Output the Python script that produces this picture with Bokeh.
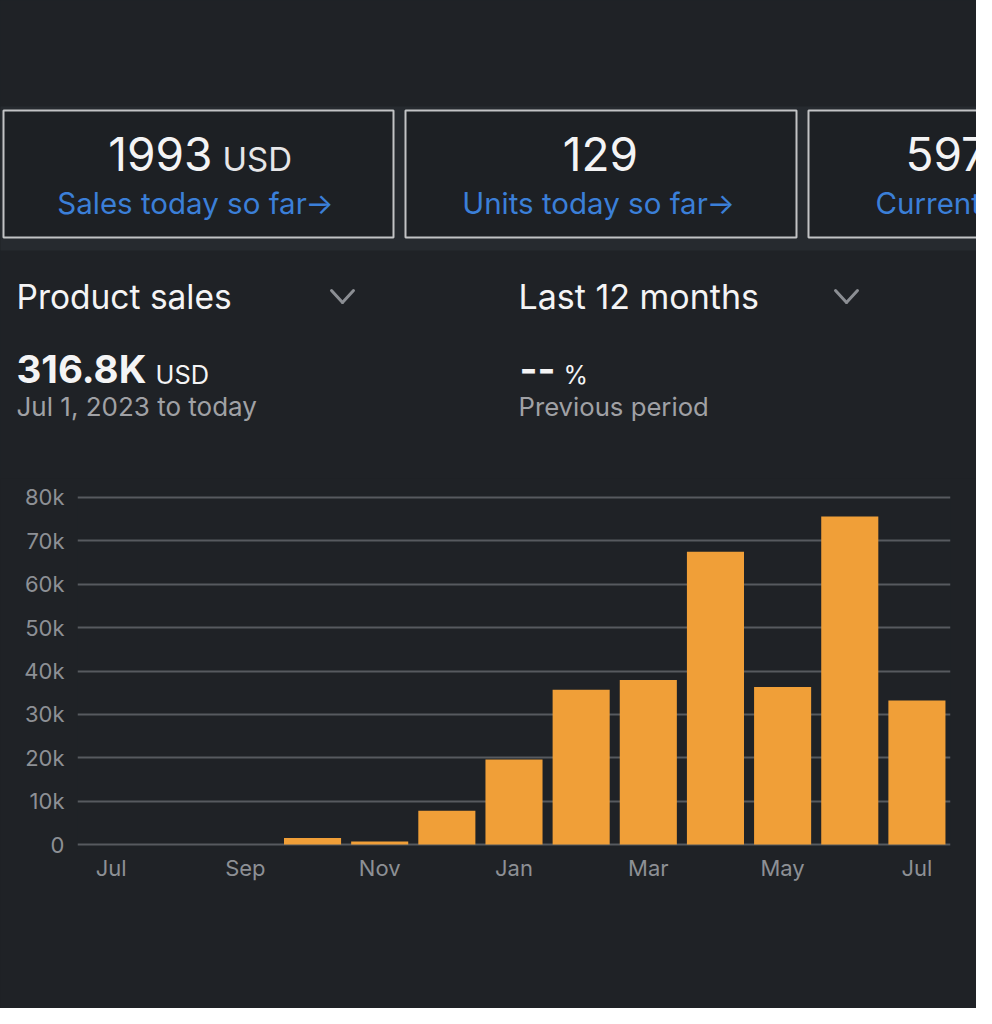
from bokeh.plotting import figure
from bokeh.layouts import column
from bokeh.models import ColumnDataSource, Range1d, FixedTicker
from bokeh.core.properties import value
from bokeh.embed import file_html
from bokeh.resources import INLINE

# ---------------- data ----------------
months = ["Jul", "Aug", "Sep", "Oct", "Nov", "Dec", "Jan", "Feb", "Mar", "Apr", "May", "Jun", "Jul"]
sales = [0, 0, 0, 1500, 700, 7800, 19600, 35700, 37900, 67500, 36300, 75600, 33200]
y_ticks = [0, 10000, 20000, 30000, 40000, 50000, 60000, 70000, 80000]
y_tick_labels = ["0", "10k", "20k", "30k", "40k", "50k", "60k", "70k", "80k"]
x_tick_idx = [0, 2, 4, 6, 8, 10, 12]

cards_value = ["1993", "129", "5973"]
cards_unit = ["USD", "", ""]
cards_caption = ["Sales today so far\u2192", "Units today so far\u2192", "Current balance\u2192"]

# ---------------- style ----------------
BG = "#1f2226"
BAND = "#262a2f"
CARD = "#1d2024"
CARD_LINE = "#c2c3c5"
WHITE = "#f4f4f5"
GREY = "#a0a1a5"
AXIS_GREY = "#8d9095"
BLUE = "#3b7fd8"
BAR = "#f09f38"
GRID = "#575a5f"
FONT = "Inter"
BOX_STYLE = {"background-color": BG}

W, H = 976, 1008
HEAD_H = 478
FRAME_L, FRAME_R, FRAME_T, FRAME_B = 77, 950, 493, 848   # page pixels

# ---------------- header (pixel coordinates) ----------------
hd = figure(width=W, height=HEAD_H, output_backend="svg", toolbar_location=None,
            x_range=Range1d(0, W), y_range=Range1d(HEAD_H, 0),
            x_axis_location=None, y_axis_location=None, min_border=0, styles=BOX_STYLE)
hd.background_fill_color = BG
hd.border_fill_color = BG
hd.outline_line_color = None
hd.grid.visible = False

hd.quad(left=[-20], right=[W + 20], top=[106], bottom=[250], fill_color=BAND, line_color=None)
hd.quad(left=[3, 405, 808], right=[393, 796, 1198], top=[110, 110, 110], bottom=[237, 237, 237],
        fill_color=CARD, line_color=CARD_LINE, line_width=2)

def label(x, base, text, size, color, align="left", bold=False):
    # base: desired alphabetic baseline (page px); correct for renderer offset
    y = base - 0.43 * size
    hd.text(x=[x], y=[y], text=[text], text_font=value(FONT), text_font_size=value(f"{size}px"),
            text_color=color, text_align=align, text_baseline="alphabetic",
            text_font_style="bold" if bold else "normal")

label(212, 173, cards_value[0], 46, WHITE, align="right")
label(222, 173, cards_unit[0], 33, "#e6e6e8")
label(195, 215, cards_caption[0], 29.5, BLUE, align="center")
label(600, 173, cards_value[1], 46, WHITE, align="center")
label(598, 215, cards_caption[1], 29.5, BLUE, align="center")
label(905, 173, cards_value[2], 46, WHITE)
label(875, 215, cards_caption[2], 29.5, BLUE)

label(16, 311, "Product sales", 33.5, WHITE)
label(518, 311, "Last 12 months", 34, WHITE)
label(16, 385, "316.8K", 38.5, WHITE, bold=True)
label(155, 385, "USD", 25.4, WHITE)
label(519, 385, "--", 38.5, WHITE, bold=True)
label(563, 385, "%", 25, WHITE)
label(16, 417, "Jul 1, 2023 to today", 26, GREY)
label(518, 417, "Previous period", 25.7, GREY)

# chevrons
cx = [342, 846]
hd.segment(x0=[c - 11 for c in cx] + [c + 11 for c in cx], y0=[290] * 4,
           x1=cx + cx, y1=[302] * 4, line_color="#8b8e93", line_width=3, line_cap="round")

# ---------------- chart ----------------
CH_H = H - HEAD_H
src = ColumnDataSource(dict(x=list(range(len(months))), y=sales, m=months))

p = figure(width=W, height=CH_H, output_backend="svg", toolbar_location=None,
           x_range=Range1d(-0.5, len(months) - 0.5), y_range=Range1d(-920, 80920),
           min_border_left=FRAME_L, min_border_right=W - FRAME_R,
           min_border_top=FRAME_T - HEAD_H, min_border_bottom=CH_H - (FRAME_B - HEAD_H),
           styles=BOX_STYLE)
p.background_fill_color = BG
p.border_fill_color = BG
p.outline_line_color = None

p.vbar(x="x", top="y", width=0.85, source=src, fill_color=BAR, line_color=None)

p.xaxis.ticker = FixedTicker(ticks=x_tick_idx)
p.xaxis.major_label_overrides = {i: months[i] for i in x_tick_idx}
p.yaxis.ticker = FixedTicker(ticks=y_ticks)
p.yaxis.major_label_overrides = {t: l for t, l in zip(y_ticks, y_tick_labels)}
for ax in (p.xaxis[0], p.yaxis[0]):
    ax.axis_line_color = None
    ax.major_tick_line_color = None
    ax.minor_tick_line_color = None
    ax.major_tick_out = 0
    ax.major_tick_in = 0
    ax.minor_tick_out = 0
    ax.minor_tick_in = 0
    ax.major_label_text_font = FONT
    ax.major_label_text_font_size = "22px"
    ax.major_label_text_color = AXIS_GREY
p.yaxis.major_label_standoff = 13
p.xaxis.major_label_standoff = 6
p.xgrid.grid_line_color = None
p.ygrid.ticker = FixedTicker(ticks=y_ticks)
p.ygrid.grid_line_color = GRID
p.ygrid.grid_line_width = 2

layout = column(column(hd, styles=BOX_STYLE), column(p, styles=BOX_STYLE), spacing=0,
                styles=BOX_STYLE)
open("out.html", "w").write(file_html(layout, INLINE))
